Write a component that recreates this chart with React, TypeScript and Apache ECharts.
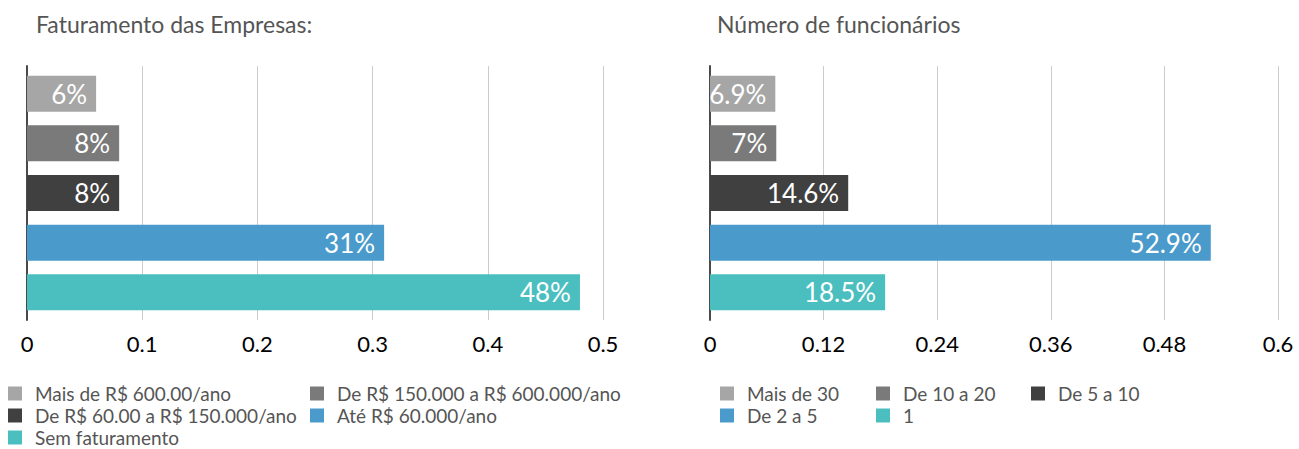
import React, { useEffect, useRef } from "react";
import * as echarts from "echarts";

const leftTitle = "Faturamento das Empresas:";
const rightTitle = "Número de funcionários";

const leftNames = [
  "Mais de R$ 600.00/ano",
  "De R$ 150.000 a R$ 600.000/ano",
  "De R$ 60.00 a R$ 150.000/ano",
  "Até R$ 60.000/ano",
  "Sem faturamento",
];
const leftValues = [0.06, 0.08, 0.08, 0.31, 0.48];

const rightNames = ["Mais de 30", "De 10 a 20", "De 5 a 10", "De 2 a 5", "1"];
const rightValues = [0.069, 0.07, 0.146, 0.529, 0.185];

const colors = ["#a6a6a6", "#7a7a7a", "#404040", "#4a9bcb", "#4bbfbf"];

const FONT = "Lato";

// legend slot positions [left, top]
const leftLegendPos = [
  [8, 384],
  [310, 384],
  [8, 406],
  [310, 406],
  [8, 428],
];
const rightLegendPos = [
  [720, 384],
  [876, 384],
  [1031, 384],
  [720, 406],
  [876, 406],
];

function fmt(p: any) {
  const v = Math.round(p.value * 1000) / 10;
  return v + "%";
}

export default function App() {
  const ref = useRef<HTMLDivElement>(null);
  useEffect(() => {
    if (!ref.current) return;
    const chart = echarts.init(ref.current, undefined, { renderer: "svg" });

    const mkSeries = (names: string[], values: number[], idx: number) =>
      names.map((n, i) => ({
        name: n,
        type: "bar",
        xAxisIndex: idx,
        yAxisIndex: idx,
        data: [values[i]],
        barWidth: 36,
        barGap: "38%",
        itemStyle: { color: colors[i] },
        label: {
          show: true,
          position: "insideRight",
          distance: 9,
          formatter: fmt,
          color: "#ffffff",
          fontSize: 26,
          fontFamily: FONT,
        },
      }));

    const mkLegends = (names: string[], pos: number[][]) =>
      names.map((n, i) => ({
        data: [n],
        left: pos[i][0],
        top: pos[i][1],
        icon: "rect",
        itemWidth: 14,
        itemHeight: 14,
        padding: 0,
        textStyle: {
          fontSize: 19,
          lineHeight: 18,
          color: "#555555",
          fontFamily: FONT,
          padding: [0, 0, 0, 8],
        },
      }));

    const xAxisCommon = {
      type: "value",
      min: 0,
      axisLine: { show: false },
      axisTick: { show: false },
      splitLine: { show: true, lineStyle: { color: "#cccccc", width: 1 } },
      axisLabel: { fontSize: 22, color: "#000000", fontFamily: FONT, margin: 12 },
    };
    const yAxisCommon = {
      type: "category",
      data: [""],
      inverse: true,
      axisLine: { show: true, lineStyle: { color: "#4a4a4a", width: 2 } },
      axisTick: { show: false },
      axisLabel: { show: false },
      splitLine: { show: false },
    };

    const titleStyle = { fontSize: 23, color: "#555555", fontWeight: "normal", fontFamily: FONT };

    chart.setOption({
      animation: false,
      textStyle: { fontFamily: FONT },
      title: [
        { text: leftTitle, left: 36, top: 12, padding: 0, textStyle: titleStyle },
        { text: rightTitle, left: 717, top: 12, padding: 0, textStyle: titleStyle },
      ],
      legend: [...mkLegends(leftNames, leftLegendPos), ...mkLegends(rightNames, rightLegendPos)],
      grid: [
        { left: 27, top: 66, width: 576, height: 254 },
        { left: 710, top: 66, width: 568, height: 254 },
      ],
      xAxis: [
        { ...xAxisCommon, gridIndex: 0, max: 0.5, interval: 0.1 },
        { ...xAxisCommon, gridIndex: 1, max: 0.6, interval: 0.12 },
      ],
      yAxis: [
        { ...yAxisCommon, gridIndex: 0 },
        { ...yAxisCommon, gridIndex: 1 },
      ],
      series: [...mkSeries(leftNames, leftValues, 0), ...mkSeries(rightNames, rightValues, 1)],
    });
    return () => chart.dispose();
  }, []);
  return (
    <div
      ref={ref}
      style={{ position: "absolute", left: 0, top: 0, width: 1299, height: 449 }}
    />
  );
}
